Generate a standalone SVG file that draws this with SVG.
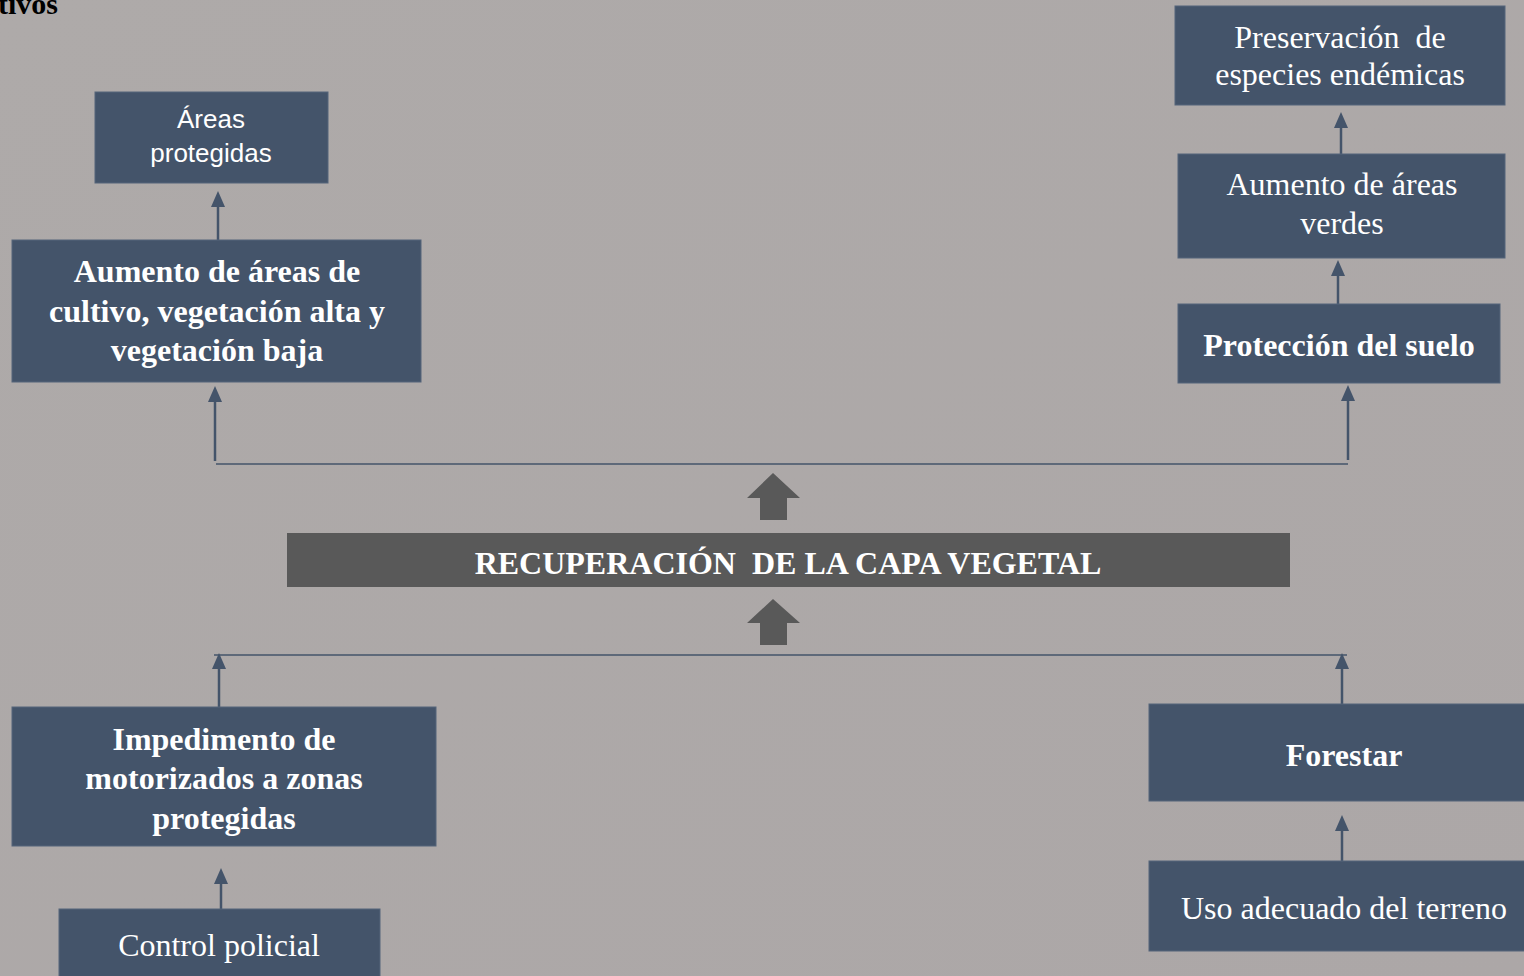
<svg xmlns="http://www.w3.org/2000/svg" width="1524" height="976" viewBox="0 0 1524 976">
<defs>
<style>
.bx{fill:#44546a;stroke:#55657a;stroke-width:1}
.gy{fill:#595959}
.tb{font-family:"Liberation Serif","Times New Roman",serif;font-weight:bold;font-size:32px;fill:#ffffff;text-anchor:middle}
.tr{font-family:"Liberation Serif","Times New Roman",serif;font-size:32px;fill:#ffffff;text-anchor:middle}
.ts{font-family:"Liberation Sans",Arial,sans-serif;font-size:26px;fill:#ffffff;text-anchor:middle}
.pre{white-space:pre}
.ln{stroke:#44546a;stroke-width:2.5;fill:none}
.hl{stroke:#44546a;stroke-width:1.5;fill:none}
.ah{fill:#44546a}
.ba{fill:#595959}
</style>
<linearGradient id="bg" x1="0" y1="0" x2="1" y2="1">
<stop offset="0" stop-color="#aeaaa9"/>
<stop offset="1" stop-color="#aca7a7"/>
</linearGradient>
</defs>
<rect x="0" y="0" width="1524" height="976" fill="url(#bg)"/>
<text x="58" y="14" font-family="Liberation Serif, serif" font-weight="bold" font-size="30" fill="#000000" text-anchor="end">tivos</text>

<g id="connectors">
<line class="ln" x1="218" y1="240" x2="218" y2="205"/>
<polygon class="ah" points="218,191 211,207 225,207"/>
<line class="hl" x1="216" y1="464" x2="1348" y2="464"/>
<line class="ln" x1="215" y1="461" x2="215" y2="400"/>
<polygon class="ah" points="215,386 208,402 222,402"/>
<line class="ln" x1="1348" y1="460" x2="1348" y2="399"/>
<polygon class="ah" points="1348,385 1341,401 1355,401"/>
<line class="ln" x1="1341" y1="154" x2="1341" y2="126"/>
<polygon class="ah" points="1341,112 1334,128 1348,128"/>
<line class="ln" x1="1338" y1="304" x2="1338" y2="274"/>
<polygon class="ah" points="1338,260 1331,276 1345,276"/>
<line class="hl" x1="214" y1="655" x2="1347" y2="655"/>
<line class="ln" x1="219" y1="708" x2="219" y2="667"/>
<polygon class="ah" points="219,653 212,669 226,669"/>
<line class="ln" x1="1342" y1="704" x2="1342" y2="667"/>
<polygon class="ah" points="1342,653 1335,669 1349,669"/>
<line class="ln" x1="221" y1="910" x2="221" y2="882"/>
<polygon class="ah" points="221,868 214,884 228,884"/>
<line class="ln" x1="1342" y1="861" x2="1342" y2="829"/>
<polygon class="ah" points="1342,815 1335,831 1349,831"/>
<polygon class="ba" points="773,473 800,498 787,498 787,520 760,520 760,498 747,498"/>
<polygon class="ba" points="773,599 800,623 787,623 787,645 760,645 760,623 747,623"/>
</g>

<g id="n-areas">
<rect class="bx" x="95" y="92" width="233" height="91"/>
<text class="ts" x="211" y="128">Áreas</text>
<text class="ts" x="211" y="162">protegidas</text>
</g>
<g id="n-cultivo">
<rect class="bx" x="12" y="240" width="409" height="142"/>
<text class="tb" x="217" y="282">Aumento de áreas de</text>
<text class="tb" x="217" y="322">cultivo, vegetación alta y</text>
<text class="tb" x="217" y="361">vegetación baja</text>
</g>
<g id="n-preservacion">
<rect class="bx" x="1175" y="6" width="330" height="99"/>
<text class="tr pre" x="1340" y="48" xml:space="preserve">Preservación  de</text>
<text class="tr" x="1340" y="85">especies endémicas</text>
</g>
<g id="n-verdes">
<rect class="bx" x="1178" y="154" width="327" height="104"/>
<text class="tr" x="1342" y="195">Aumento de áreas</text>
<text class="tr" x="1342" y="234">verdes</text>
</g>
<g id="n-suelo">
<rect class="bx" x="1178" y="304" width="322" height="79"/>
<text class="tb" x="1339" y="356">Protección del suelo</text>
</g>
<g id="n-recuperacion">
<rect class="gy" x="287" y="533" width="1003" height="54"/>
<text class="tb pre" x="788" y="574" xml:space="preserve">RECUPERACIÓN  DE LA CAPA VEGETAL</text>
</g>
<g id="n-impedimento">
<rect class="bx" x="12" y="707" width="424" height="139"/>
<text class="tb" x="224" y="750">Impedimento de</text>
<text class="tb" x="224" y="789">motorizados a zonas</text>
<text class="tb" x="224" y="829">protegidas</text>
</g>
<g id="n-forestar">
<rect class="bx" x="1149" y="704" width="380" height="97"/>
<text class="tb" x="1344" y="766">Forestar</text>
</g>
<g id="n-control">
<rect class="bx" x="59" y="909" width="321" height="72"/>
<text class="tr" x="219" y="956">Control policial</text>
</g>
<g id="n-uso">
<rect class="bx" x="1149" y="861" width="380" height="90"/>
<text class="tr" x="1344" y="919">Uso adecuado del terreno</text>
</g>
</svg>
